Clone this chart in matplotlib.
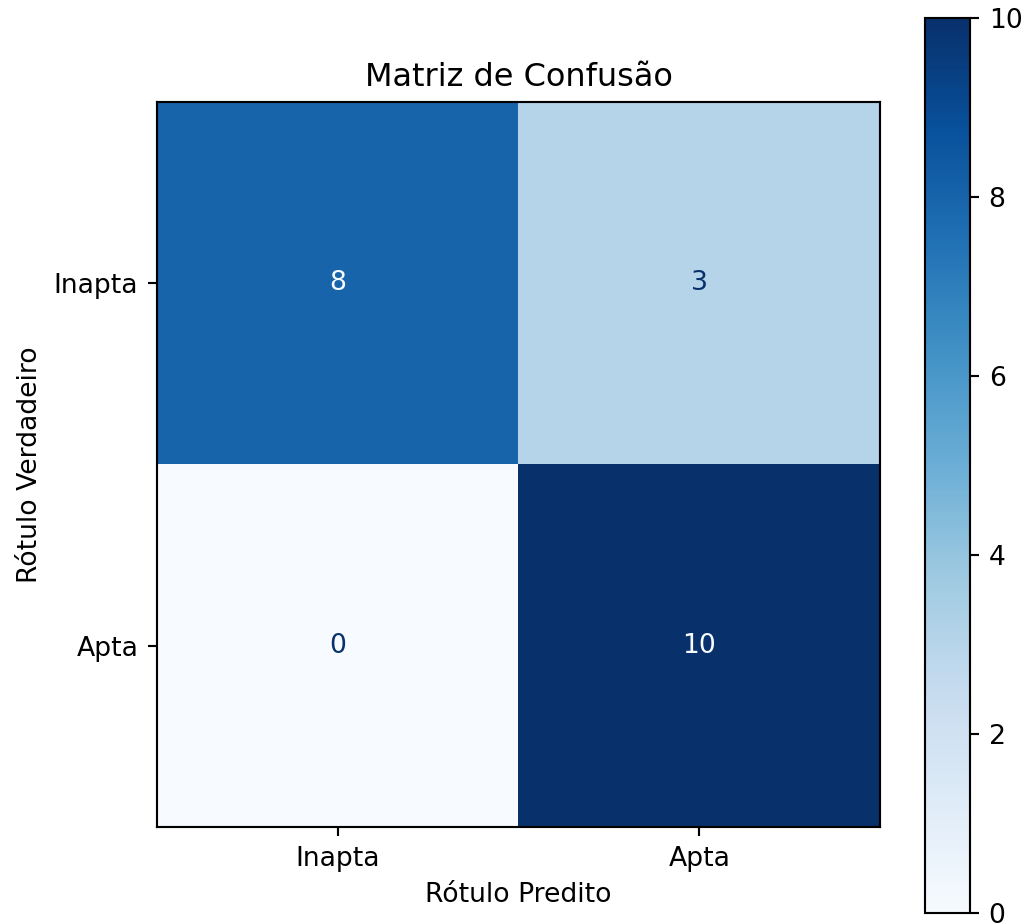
import matplotlib
matplotlib.use("Agg")
import matplotlib.pyplot as plt
import numpy as np

labels = ["Inapta", "Apta"]
cm = np.array([[8, 3],
               [0, 10]])
title = "Matriz de Confusão"
xlabel = "Rótulo Predito"
ylabel = "Rótulo Verdadeiro"

W, H, dpi = 1025, 923, 192
fig = plt.figure(figsize=(W / dpi, H / dpi), dpi=dpi)
ax = fig.add_axes([157 / W, (H - 827) / H, 723 / W, 725 / H])
cax = fig.add_axes([925 / W, (H - 913) / H, 45 / W, 895 / H])

cmap = plt.get_cmap("Blues")
im = ax.imshow(cm, interpolation="nearest", cmap=cmap, aspect="auto")
cmap_min, cmap_max = im.cmap(0), im.cmap(1.0)
thresh = (cm.max() + cm.min()) / 2.0
for i in range(cm.shape[0]):
    for j in range(cm.shape[1]):
        color = cmap_max if cm[i, j] < thresh else cmap_min
        ax.text(j, i, format(cm[i, j], "d"), ha="center", va="center", color=color)

fig.colorbar(im, cax=cax)
ax.set_xticks(np.arange(len(labels)), labels=labels)
ax.set_yticks(np.arange(len(labels)), labels=labels)
ax.set_xlabel(xlabel)
ax.set_ylabel(ylabel)
ax.set_title(title)
ax.set_ylim(len(labels) - 0.5, -0.5)

fig.savefig("out.png", dpi=dpi)
